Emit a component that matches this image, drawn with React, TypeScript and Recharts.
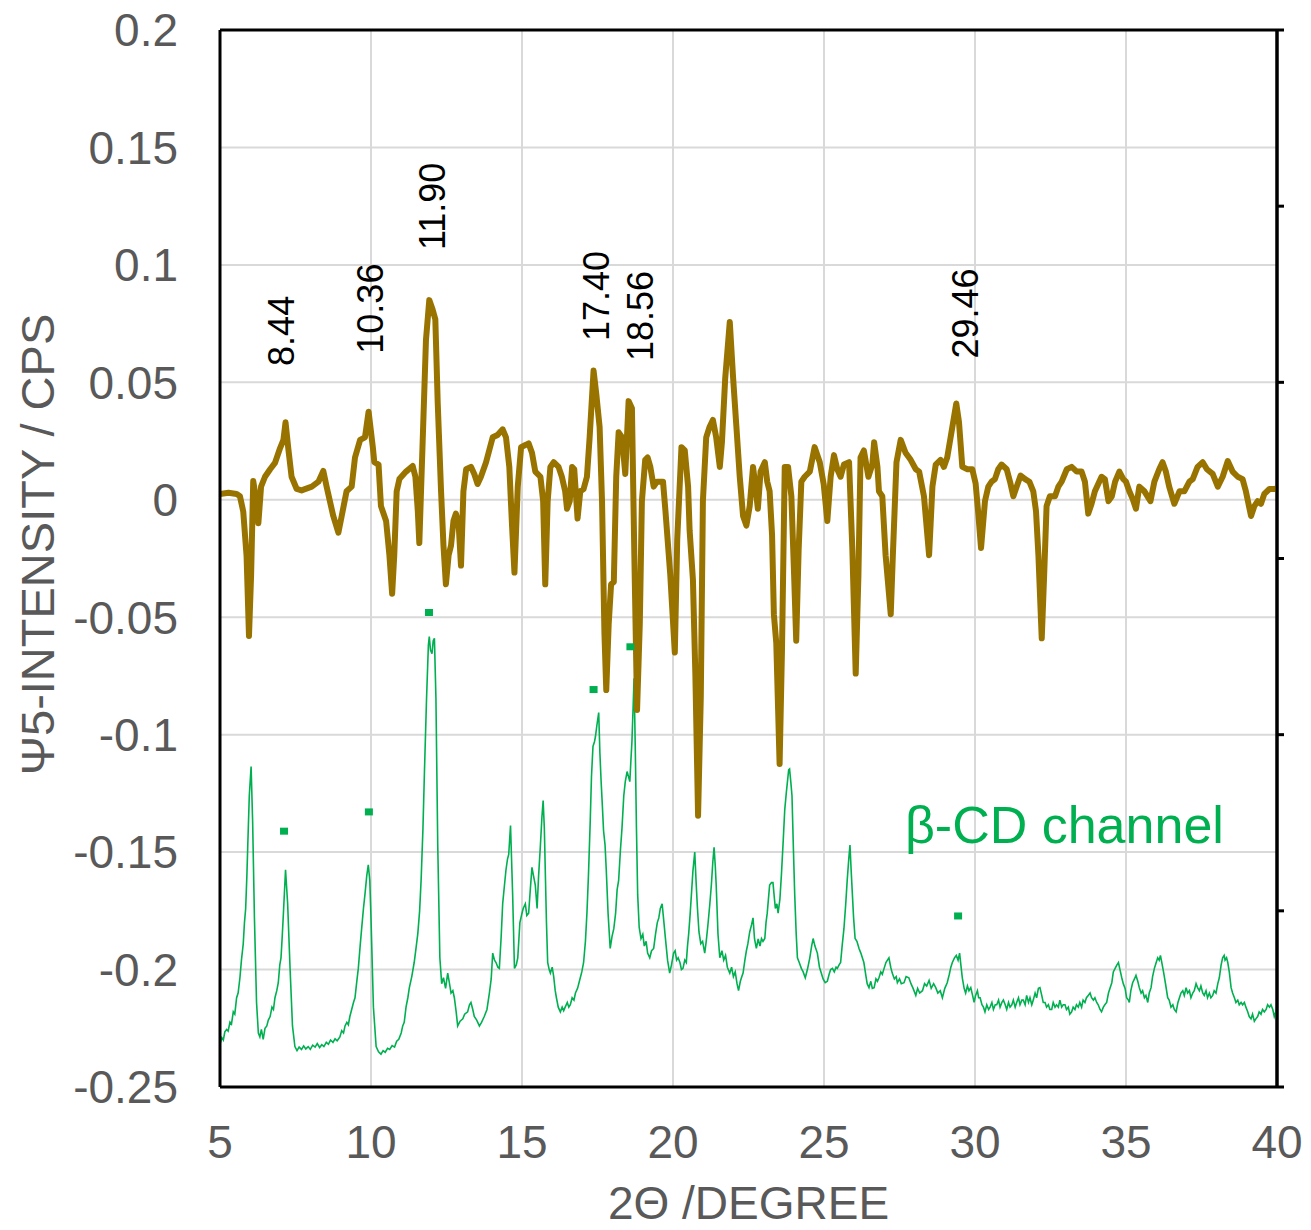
import React from 'react';
import { ComposedChart, Line, Scatter, XAxis, YAxis, CartesianGrid, ReferenceLine } from 'recharts';

document.body.style.margin = '0';

const FONT = '"Liberation Sans", Arial, sans-serif';

const xTicks = [5, 10, 15, 20, 25, 30, 35, 40];
const yTicks = [-0.25, -0.2, -0.15, -0.1, -0.05, 0, 0.05, 0.1, 0.15, 0.2];
const rightTicks = [0, 1, 2, 3, 4, 5, 6];
const rightRange = [0, 6];

// Ψ5 difference trace (2θ, intensity)
const psi5Trace: [number, number][] = [
  [5.0, 0.0025], [5.28, 0.003], [5.55, 0.0025], [5.66, 0.0015], [5.77, -0.005], [5.88, -0.024],
  [5.96, -0.058], [6.03, -0.032], [6.1, 0.008], [6.18, 0.0015], [6.27, -0.01], [6.36, 0.0056],
  [6.49, 0.0098], [6.66, 0.013], [6.82, 0.0157], [6.99, 0.022], [7.1, 0.0255], [7.17, 0.033],
  [7.26, 0.022], [7.37, 0.0098], [7.54, 0.0046], [7.7, 0.004], [8.04, 0.0056], [8.26, 0.0077],
  [8.42, 0.0123], [8.53, 0.0056], [8.75, -0.0069], [8.92, -0.014], [9.03, -0.0069], [9.19, 0.0036],
  [9.36, 0.0056], [9.47, 0.018], [9.64, 0.0255], [9.8, 0.0266], [9.92, 0.0375], [10.06, 0.0224],
  [10.11, 0.016], [10.25, 0.015], [10.33, -0.0027], [10.5, -0.009], [10.61, -0.0236], [10.7, -0.04],
  [10.77, -0.0236], [10.85, 0.0036], [10.94, 0.0088], [11.16, 0.012], [11.38, 0.0144], [11.47, 0.0098],
  [11.55, -0.0048], [11.6, -0.0184], [11.71, 0.0245], [11.82, 0.068], [11.93, 0.085], [12.04, 0.081],
  [12.13, 0.0768], [12.21, 0.041], [12.32, 0.0036], [12.4, -0.0195], [12.48, -0.036], [12.57, -0.0236],
  [12.65, -0.0195], [12.73, -0.009], [12.81, -0.0059], [12.9, -0.01], [12.98, -0.028], [13.06, 0.0036],
  [13.15, 0.013], [13.31, 0.014], [13.42, 0.011], [13.53, 0.0067], [13.64, 0.0098], [13.81, 0.016],
  [14.03, 0.0266], [14.19, 0.0276], [14.36, 0.03], [14.47, 0.0266], [14.58, 0.014], [14.67, -0.011],
  [14.75, -0.031], [14.86, 0.0056], [14.97, 0.0224], [15.13, 0.0234], [15.22, 0.024], [15.33, 0.02],
  [15.44, 0.012], [15.61, 0.0098], [15.7, -0.0006], [15.77, -0.036], [15.85, -0.0006], [15.94, 0.014],
  [16.05, 0.016], [16.21, 0.014], [16.32, 0.0098], [16.43, 0.0036], [16.49, -0.0038], [16.58, -0.0006],
  [16.66, 0.014], [16.73, 0.013], [16.84, -0.008], [16.93, 0.0036], [17.04, 0.0046], [17.15, 0.0098],
  [17.24, 0.0266], [17.37, 0.055], [17.46, 0.045], [17.57, 0.031], [17.65, -0.0006], [17.73, -0.057],
  [17.79, -0.081], [17.87, -0.053], [17.95, -0.036], [18.04, -0.035], [18.12, 0.0098], [18.2, 0.0287],
  [18.31, 0.0266], [18.42, 0.011], [18.53, 0.042], [18.64, 0.039], [18.72, -0.0236], [18.81, -0.0895],
  [18.9, -0.053], [18.97, -0.0006], [19.08, 0.017], [19.16, 0.018], [19.25, 0.014], [19.36, 0.0056],
  [19.47, 0.0077], [19.67, 0.0077], [19.75, -0.0048], [19.91, -0.032], [20.06, -0.065], [20.14, -0.017],
  [20.28, 0.0224], [20.39, 0.021], [20.5, 0.0056], [20.55, -0.013], [20.66, -0.034], [20.74, -0.074],
  [20.83, -0.1345], [20.92, -0.084], [20.99, -0.0006], [21.1, 0.0266], [21.21, 0.031], [21.32, 0.034],
  [21.43, 0.0266], [21.55, 0.014], [21.62, 0.0245], [21.73, 0.052], [21.88, 0.0757], [21.99, 0.052],
  [22.1, 0.031], [22.21, 0.0098], [22.32, -0.0069], [22.43, -0.011], [22.54, -0.0027], [22.65, 0.014],
  [22.73, 0.0056], [22.81, -0.0038], [22.9, 0.012], [23.04, 0.016], [23.12, 0.0077], [23.2, 0.0036],
  [23.28, -0.015], [23.34, -0.0487], [23.42, -0.061], [23.53, -0.1125], [23.61, -0.063], [23.7, 0.014],
  [23.81, 0.014], [23.92, 0.0015], [24.01, -0.032], [24.08, -0.06], [24.16, -0.0215], [24.25, 0.0077],
  [24.36, 0.0098], [24.53, 0.012], [24.69, 0.0224], [24.86, 0.016], [24.99, 0.0066], [25.11, -0.009],
  [25.22, 0.0098], [25.33, 0.019], [25.44, 0.013], [25.55, 0.0098], [25.66, 0.015], [25.83, 0.016],
  [25.94, -0.0215], [26.05, -0.074], [26.14, -0.032], [26.21, 0.018], [26.32, 0.021], [26.47, 0.0098],
  [26.6, 0.015], [26.66, 0.0245], [26.77, 0.014], [26.82, 0.0036], [26.93, 0.0015], [27.04, -0.0236],
  [27.21, -0.0487], [27.28, -0.0236], [27.4, 0.016], [27.54, 0.0255], [27.7, 0.02], [27.87, 0.017],
  [28.04, 0.013], [28.15, 0.012], [28.31, 0.0015], [28.48, -0.0236], [28.59, 0.0056], [28.7, 0.015],
  [28.86, 0.017], [28.97, 0.014], [29.08, 0.018], [29.25, 0.031], [29.38, 0.041], [29.47, 0.033],
  [29.58, 0.014], [29.75, 0.013], [29.91, 0.013], [30.02, 0.007], [30.11, -0.006], [30.2, -0.0205],
  [30.33, -0.0006], [30.44, 0.0056], [30.55, 0.0077], [30.66, 0.0088], [30.77, 0.013], [30.88, 0.015],
  [31.05, 0.013], [31.16, 0.0077], [31.27, 0.0015], [31.38, 0.0056], [31.51, 0.0103], [31.66, 0.0088],
  [31.8, 0.0077], [31.93, 0.0036], [32.02, -0.0048], [32.1, -0.0236], [32.21, -0.059], [32.29, -0.032],
  [32.37, -0.0027], [32.48, 0.0015], [32.65, 0.0015], [32.76, 0.0056], [32.87, 0.0077], [33.04, 0.013],
  [33.2, 0.014], [33.37, 0.012], [33.53, 0.012], [33.64, 0.0077], [33.75, -0.0059], [33.86, -0.0017],
  [33.97, 0.0036], [34.08, 0.0067], [34.19, 0.0098], [34.3, 0.0088], [34.42, -0.0006], [34.53, 0.0015],
  [34.64, 0.0077], [34.78, 0.012], [34.91, 0.0088], [35.0, 0.0077], [35.11, 0.0036], [35.22, 0.0004],
  [35.33, -0.0038], [35.44, 0.0056], [35.61, 0.0036], [35.81, -0.0006], [35.94, 0.0077], [36.1, 0.013],
  [36.21, 0.016], [36.32, 0.012], [36.43, 0.0056], [36.6, -0.0017], [36.77, 0.0036], [36.93, 0.0036],
  [37.1, 0.0077], [37.21, 0.0088], [37.37, 0.014], [37.54, 0.016], [37.68, 0.013], [37.87, 0.011],
  [38.04, 0.0056], [38.2, 0.0098], [38.37, 0.0165], [38.53, 0.012], [38.7, 0.0098], [38.86, 0.0088],
  [38.97, 0.0036], [39.14, -0.0069], [39.25, -0.0027], [39.36, -0.0006], [39.47, -0.0017], [39.58, 0.0025],
  [39.75, 0.0046], [39.91, 0.0046], [40.0, 0.0048],
];

// β-CD channel pattern (2θ, intensity)
const betaCdTrace: [number, number][] = [
  [5.0, -0.2318], [5.06, -0.229], [5.11, -0.23], [5.16, -0.2265], [5.22, -0.2255], [5.27, -0.2262],
  [5.33, -0.2224], [5.38, -0.2232], [5.44, -0.218], [5.49, -0.219], [5.55, -0.212], [5.6, -0.21],
  [5.66, -0.2035], [5.71, -0.196], [5.77, -0.189], [5.81, -0.18], [5.85, -0.174], [5.89, -0.16],
  [5.92, -0.147], [5.97, -0.126], [6.03, -0.1136], [6.08, -0.1366], [6.14, -0.178], [6.21, -0.214],
  [6.27, -0.227], [6.32, -0.2287], [6.37, -0.2255], [6.43, -0.2297], [6.49, -0.225], [6.55, -0.224],
  [6.6, -0.2215], [6.66, -0.22], [6.72, -0.216], [6.77, -0.217], [6.82, -0.212], [6.88, -0.209],
  [6.93, -0.2056], [6.98, -0.198], [7.02, -0.195], [7.06, -0.186], [7.1, -0.176], [7.17, -0.1575],
  [7.24, -0.172], [7.32, -0.1995], [7.4, -0.224], [7.48, -0.2328], [7.55, -0.2345], [7.62, -0.233],
  [7.7, -0.234], [7.77, -0.2325], [7.84, -0.2338], [7.92, -0.2328], [7.99, -0.234], [8.07, -0.2322],
  [8.15, -0.233], [8.22, -0.2315], [8.3, -0.2332], [8.37, -0.232], [8.44, -0.2328], [8.52, -0.231],
  [8.59, -0.2318], [8.66, -0.23], [8.74, -0.231], [8.81, -0.2295], [8.88, -0.2303], [8.97, -0.2287],
  [9.03, -0.226], [9.09, -0.227], [9.14, -0.224], [9.2, -0.2225], [9.25, -0.2235], [9.3, -0.22],
  [9.36, -0.217], [9.42, -0.214], [9.47, -0.212], [9.53, -0.205], [9.58, -0.1995], [9.64, -0.19],
  [9.69, -0.1826], [9.75, -0.174], [9.8, -0.168], [9.86, -0.16], [9.91, -0.1554], [9.96, -0.162],
  [10.0, -0.178], [10.08, -0.216], [10.17, -0.2328], [10.25, -0.235], [10.33, -0.236], [10.4, -0.2345],
  [10.47, -0.2352], [10.55, -0.2335], [10.62, -0.234], [10.7, -0.2324], [10.78, -0.233], [10.85, -0.2305],
  [10.92, -0.2297], [11.0, -0.227], [11.05, -0.224], [11.1, -0.2225], [11.16, -0.216], [11.22, -0.212],
  [11.27, -0.2077], [11.35, -0.203], [11.43, -0.197], [11.49, -0.191], [11.55, -0.1847], [11.61, -0.175],
  [11.66, -0.1617], [11.72, -0.14], [11.77, -0.1157], [11.84, -0.0843], [11.9, -0.062], [11.93, -0.0582],
  [11.97, -0.064], [12.02, -0.0655], [12.06, -0.06], [12.1, -0.059], [12.15, -0.0843], [12.21, -0.147],
  [12.28, -0.195], [12.34, -0.206], [12.4, -0.2035], [12.47, -0.208], [12.54, -0.2015], [12.6, -0.206],
  [12.65, -0.21], [12.71, -0.209], [12.76, -0.212], [12.82, -0.218], [12.87, -0.224], [12.95, -0.222],
  [13.04, -0.221], [13.1, -0.219], [13.2, -0.218], [13.26, -0.215], [13.31, -0.214], [13.37, -0.217],
  [13.42, -0.22], [13.5, -0.2215], [13.59, -0.224], [13.66, -0.2225], [13.75, -0.22], [13.84, -0.217],
  [13.92, -0.21], [13.98, -0.204], [14.03, -0.193], [14.09, -0.196], [14.14, -0.197], [14.2, -0.199],
  [14.25, -0.1995], [14.31, -0.186], [14.36, -0.172], [14.42, -0.164], [14.47, -0.1575], [14.52, -0.153],
  [14.56, -0.151], [14.62, -0.1387], [14.69, -0.168], [14.75, -0.1995], [14.81, -0.198], [14.86, -0.195],
  [14.93, -0.18], [15.0, -0.176], [15.04, -0.174], [15.11, -0.172], [15.16, -0.177], [15.22, -0.176],
  [15.28, -0.165], [15.33, -0.1565], [15.38, -0.16], [15.44, -0.164], [15.5, -0.174], [15.55, -0.16],
  [15.61, -0.147], [15.66, -0.135], [15.7, -0.128], [15.74, -0.14], [15.77, -0.1575], [15.81, -0.18],
  [15.85, -0.197], [15.9, -0.2], [15.94, -0.2015], [16.0, -0.199], [16.05, -0.203], [16.1, -0.209],
  [16.14, -0.212], [16.2, -0.216], [16.27, -0.218], [16.33, -0.216], [16.38, -0.2175], [16.43, -0.216],
  [16.5, -0.214], [16.55, -0.216], [16.6, -0.215], [16.66, -0.212], [16.72, -0.213], [16.77, -0.21],
  [16.84, -0.208], [16.93, -0.2035], [16.98, -0.201], [17.04, -0.197], [17.1, -0.188], [17.15, -0.176],
  [17.2, -0.16], [17.26, -0.1366], [17.3, -0.118], [17.35, -0.105], [17.4, -0.103], [17.43, -0.101],
  [17.48, -0.096], [17.54, -0.0906], [17.58, -0.108], [17.62, -0.12], [17.66, -0.13], [17.7, -0.1408],
  [17.75, -0.147], [17.79, -0.1575], [17.85, -0.176], [17.92, -0.191], [17.98, -0.186], [18.04, -0.1826],
  [18.1, -0.176], [18.15, -0.166], [18.2, -0.162], [18.26, -0.149], [18.31, -0.14], [18.37, -0.126],
  [18.42, -0.12], [18.48, -0.1157], [18.53, -0.118], [18.57, -0.12], [18.61, -0.11], [18.64, -0.103],
  [18.68, -0.088], [18.71, -0.076], [18.75, -0.105], [18.79, -0.14], [18.83, -0.168], [18.88, -0.182],
  [18.94, -0.1868], [19.0, -0.185], [19.05, -0.19], [19.11, -0.188], [19.16, -0.193], [19.23, -0.195],
  [19.29, -0.192], [19.36, -0.191], [19.42, -0.185], [19.48, -0.18], [19.53, -0.178], [19.58, -0.174],
  [19.64, -0.172], [19.7, -0.18], [19.75, -0.1868], [19.82, -0.196], [19.89, -0.2015], [19.95, -0.198],
  [20.02, -0.193], [20.07, -0.192], [20.12, -0.196], [20.17, -0.195], [20.23, -0.197], [20.28, -0.2],
  [20.33, -0.1995], [20.39, -0.196], [20.44, -0.197], [20.48, -0.19], [20.52, -0.1847], [20.57, -0.176],
  [20.61, -0.168], [20.66, -0.158], [20.72, -0.15], [20.77, -0.164], [20.81, -0.174], [20.86, -0.184],
  [20.92, -0.189], [20.98, -0.188], [21.05, -0.193], [21.1, -0.188], [21.16, -0.1805], [21.22, -0.172],
  [21.27, -0.164], [21.32, -0.154], [21.36, -0.148], [21.4, -0.156], [21.43, -0.164], [21.49, -0.185],
  [21.55, -0.195], [21.62, -0.192], [21.68, -0.196], [21.74, -0.194], [21.8, -0.199], [21.88, -0.2015],
  [21.94, -0.199], [22.0, -0.203], [22.06, -0.201], [22.12, -0.206], [22.17, -0.209], [22.23, -0.205],
  [22.28, -0.203], [22.32, -0.2015], [22.38, -0.196], [22.43, -0.192], [22.48, -0.189], [22.54, -0.184],
  [22.6, -0.181], [22.65, -0.178], [22.7, -0.187], [22.76, -0.191], [22.82, -0.187], [22.88, -0.19],
  [22.93, -0.1868], [22.98, -0.188], [23.04, -0.1868], [23.08, -0.18], [23.12, -0.176], [23.16, -0.17],
  [23.2, -0.164], [23.26, -0.163], [23.31, -0.163], [23.36, -0.17], [23.39, -0.174], [23.44, -0.172],
  [23.48, -0.176], [23.54, -0.17], [23.59, -0.1596], [23.65, -0.145], [23.7, -0.132], [23.75, -0.125],
  [23.79, -0.12], [23.83, -0.115], [23.86, -0.1146], [23.9, -0.12], [23.94, -0.126], [23.99, -0.15],
  [24.03, -0.168], [24.08, -0.185], [24.12, -0.195], [24.18, -0.197], [24.25, -0.1995], [24.31, -0.201],
  [24.38, -0.2035], [24.45, -0.2], [24.53, -0.195], [24.59, -0.19], [24.64, -0.1868], [24.7, -0.19],
  [24.78, -0.193], [24.85, -0.199], [24.91, -0.2015], [24.97, -0.204], [25.04, -0.2056], [25.11, -0.205],
  [25.17, -0.202], [25.22, -0.2], [25.28, -0.1995], [25.34, -0.201], [25.4, -0.199], [25.44, -0.1995],
  [25.5, -0.198], [25.55, -0.197], [25.6, -0.19], [25.66, -0.1826], [25.72, -0.172], [25.77, -0.1617],
  [25.82, -0.153], [25.86, -0.147], [25.9, -0.158], [25.94, -0.168], [25.98, -0.178], [26.03, -0.1868],
  [26.09, -0.188], [26.16, -0.191], [26.22, -0.193], [26.27, -0.195], [26.32, -0.197], [26.38, -0.202],
  [26.43, -0.206], [26.49, -0.2077], [26.55, -0.205], [26.6, -0.208], [26.66, -0.2077], [26.72, -0.204],
  [26.77, -0.205], [26.82, -0.2035], [26.88, -0.201], [26.93, -0.202], [26.99, -0.1995], [27.05, -0.197],
  [27.1, -0.196], [27.15, -0.195], [27.21, -0.199], [27.26, -0.2015], [27.33, -0.204], [27.39, -0.203],
  [27.43, -0.2056], [27.5, -0.204], [27.56, -0.206], [27.65, -0.2056], [27.72, -0.203], [27.81, -0.2035],
  [27.88, -0.206], [27.95, -0.208], [28.04, -0.211], [28.1, -0.208], [28.17, -0.21], [28.26, -0.209],
  [28.33, -0.206], [28.4, -0.207], [28.48, -0.2046], [28.55, -0.208], [28.63, -0.206], [28.7, -0.2077],
  [28.77, -0.21], [28.85, -0.209], [28.92, -0.212], [29.0, -0.208], [29.08, -0.2056], [29.15, -0.202],
  [29.2, -0.199], [29.25, -0.197], [29.32, -0.195], [29.38, -0.194], [29.44, -0.196], [29.49, -0.193],
  [29.54, -0.199], [29.58, -0.2035], [29.64, -0.208], [29.69, -0.21], [29.75, -0.207], [29.8, -0.209],
  [29.86, -0.2077], [29.92, -0.211], [29.97, -0.214], [30.02, -0.211], [30.08, -0.209], [30.12, -0.212],
  [30.17, -0.212], [30.23, -0.215], [30.28, -0.216], [30.33, -0.218], [30.39, -0.215], [30.45, -0.217],
  [30.5, -0.216], [30.56, -0.214], [30.61, -0.217], [30.67, -0.215], [30.72, -0.215], [30.78, -0.213],
  [30.83, -0.216], [30.89, -0.214], [30.94, -0.213], [31.0, -0.215], [31.05, -0.217], [31.11, -0.214],
  [31.16, -0.216], [31.22, -0.215], [31.27, -0.213], [31.33, -0.216], [31.38, -0.214], [31.44, -0.212],
  [31.49, -0.215], [31.55, -0.213], [31.6, -0.213], [31.66, -0.215], [31.71, -0.211], [31.77, -0.214],
  [31.82, -0.212], [31.88, -0.215], [31.93, -0.213], [31.99, -0.21], [32.04, -0.212], [32.1, -0.208],
  [32.15, -0.2077], [32.21, -0.211], [32.26, -0.214], [32.32, -0.214], [32.37, -0.216], [32.43, -0.215],
  [32.48, -0.217], [32.54, -0.217], [32.59, -0.214], [32.65, -0.216], [32.7, -0.215], [32.76, -0.216],
  [32.81, -0.213], [32.87, -0.216], [32.92, -0.215], [32.98, -0.215], [33.03, -0.217], [33.09, -0.216],
  [33.14, -0.219], [33.2, -0.218], [33.25, -0.216], [33.31, -0.217], [33.36, -0.215], [33.42, -0.216],
  [33.47, -0.214], [33.53, -0.216], [33.58, -0.213], [33.64, -0.214], [33.69, -0.212], [33.75, -0.211],
  [33.81, -0.21], [33.86, -0.212], [33.92, -0.213], [33.97, -0.212], [34.03, -0.214], [34.08, -0.215],
  [34.14, -0.217], [34.19, -0.218], [34.25, -0.216], [34.3, -0.215], [34.36, -0.214], [34.42, -0.21],
  [34.47, -0.208], [34.53, -0.2056], [34.58, -0.201], [34.64, -0.1995], [34.7, -0.198], [34.75, -0.197],
  [34.8, -0.2], [34.86, -0.2035], [34.91, -0.206], [34.97, -0.208], [35.02, -0.212], [35.08, -0.213],
  [35.11, -0.214], [35.16, -0.209], [35.22, -0.2056], [35.28, -0.204], [35.33, -0.2025], [35.39, -0.205],
  [35.44, -0.2077], [35.5, -0.21], [35.55, -0.209], [35.61, -0.212], [35.66, -0.211], [35.72, -0.214],
  [35.77, -0.21], [35.83, -0.2077], [35.88, -0.203], [35.94, -0.1995], [36.0, -0.197], [36.05, -0.195],
  [36.1, -0.196], [36.14, -0.194], [36.2, -0.198], [36.25, -0.2015], [36.32, -0.207], [36.38, -0.212],
  [36.43, -0.213], [36.49, -0.216], [36.55, -0.215], [36.6, -0.217], [36.66, -0.218], [36.72, -0.214],
  [36.77, -0.212], [36.82, -0.21], [36.88, -0.209], [36.93, -0.211], [36.99, -0.2077], [37.04, -0.21],
  [37.1, -0.209], [37.15, -0.212], [37.21, -0.21], [37.26, -0.209], [37.32, -0.206], [37.37, -0.2077],
  [37.43, -0.209], [37.48, -0.207], [37.54, -0.21], [37.59, -0.211], [37.65, -0.209], [37.7, -0.212],
  [37.76, -0.21], [37.81, -0.212], [37.87, -0.211], [37.92, -0.209], [37.98, -0.21], [38.04, -0.206],
  [38.09, -0.2035], [38.15, -0.198], [38.2, -0.195], [38.25, -0.194], [38.28, -0.196], [38.33, -0.195],
  [38.37, -0.197], [38.42, -0.201], [38.48, -0.2077], [38.53, -0.21], [38.59, -0.212], [38.64, -0.214],
  [38.7, -0.213], [38.75, -0.215], [38.81, -0.214], [38.86, -0.215], [38.92, -0.214], [38.97, -0.216],
  [39.03, -0.218], [39.08, -0.22], [39.14, -0.221], [39.19, -0.219], [39.25, -0.222], [39.3, -0.221],
  [39.36, -0.22], [39.41, -0.218], [39.47, -0.219], [39.52, -0.217], [39.58, -0.218], [39.64, -0.217],
  [39.69, -0.215], [39.75, -0.216], [39.8, -0.215], [39.86, -0.217], [39.91, -0.22], [39.96, -0.218],
  [40.0, -0.216],
];

// small square markers above the β-CD reflections
const peakMarkers: [number, number][] = [
  [7.12, -0.1413], [9.93, -0.1331], [11.92, -0.0482], [17.37, -0.081], [18.59, -0.0628], [29.44, -0.1774],
];

// rotated peak positions written above the Ψ5 trace
const peakLabelX = [7.04, 9.97, 12.05, 17.48, 18.91, 29.67];
const peakLabelY = [0.057, 0.0622, 0.1063, 0.0676, 0.0591, 0.0601];
const peakLabelText = ['8.44', '10.36', '11.90', '17.40', '18.56', '29.46'];

const noteData = [{ x: 27.68, y: -0.1461, text: 'β-CD channel' }];

const toPoints = (arr: [number, number][]) => arr.map(([x, y]) => ({ x, y }));
const psi5Data = toPoints(psi5Trace);
const betaData = toPoints(betaCdTrace);
const markerData = toPoints(peakMarkers);
const labelData = peakLabelX.map((x, i) => ({ x, y: peakLabelY[i], text: peakLabelText[i] }));
// invisible helper so the secondary (right) axis gets a scale
const rightAxisData = [{ x: 5, r: rightRange[0] }, { x: 40, r: rightRange[1] }];

const SquareMark = (props: any) => {
  const { cx, cy } = props;
  return <rect x={cx - 4} y={cy - 4} width={8} height={7} fill="#00B050" />;
};

const PeakText = (props: any) => {
  const { cx, cy, payload } = props;
  return (
    <text
      x={cx}
      y={cy}
      transform={`rotate(-90, ${cx}, ${cy})`}
      textAnchor="start"
      dominantBaseline="central"
      fontSize={36}
      fontFamily={FONT}
      fill="#000"
    >
      {payload.text}
    </text>
  );
};

const NoteText = (props: any) => {
  const { cx, cy, payload } = props;
  return (
    <text x={cx} y={cy} textAnchor="start" fontSize={52} fontFamily={FONT} fill="#00B050">
      {payload.text}
    </text>
  );
};

const YTitle = (props: any) => {
  const { x, y, height } = props.viewBox;
  const cx = x + 17;
  const cy = y + height / 2 - 14;
  return (
    <text
      x={cx}
      y={cy}
      transform={`rotate(-90, ${cx}, ${cy})`}
      textAnchor="middle"
      dominantBaseline="central"
      fontSize={47}
      fontFamily={FONT}
      fill="#595959"
    >
      Ψ5-INTENSITY / CPS
    </text>
  );
};

const XTitle = (props: any) => {
  const { x, y, width } = props.viewBox;
  return (
    <text x={x + width / 2} y={y + 132} textAnchor="middle" fontSize={46} fontFamily={FONT} fill="#595959">
      2Θ /DEGREE
    </text>
  );
};

const tickStyle = { fill: '#595959', fontSize: 46, fontFamily: FONT };

export default function App() {
  return (
    <div style={{ width: 1311, height: 1230, background: '#fff' }}>
      <ComposedChart width={1311} height={1230} margin={{ top: 30, right: 14, left: 20, bottom: 23 }}>
        <CartesianGrid stroke="#d9d9d9" strokeWidth={2} />
        <XAxis
          dataKey="x"
          type="number"
          domain={[5, 40]}
          ticks={xTicks}
          interval={0}
          allowDataOverflow
          height={120}
          tickSize={0}
          tickMargin={38}
          tick={tickStyle}
          axisLine={{ stroke: '#000', strokeWidth: 3 }}
          label={<XTitle />}
        />
        <YAxis
          dataKey="y"
          type="number"
          domain={[-0.25, 0.2]}
          ticks={yTicks}
          interval={0}
          allowDataOverflow
          width={200}
          tickSize={0}
          tickMargin={42}
          tick={tickStyle}
          tickFormatter={(v: number) => String(v)}
          axisLine={{ stroke: '#000', strokeWidth: 3 }}
          label={<YTitle />}
        />
        <YAxis
          yAxisId="right"
          orientation="right"
          type="number"
          domain={rightRange}
          ticks={rightTicks}
          interval={0}
          allowDataOverflow
          width={20}
          tick={{ fill: 'none', fontSize: 1 }}
          tickFormatter={() => ''}
          tickSize={7}
          tickLine={{ stroke: '#000', strokeWidth: 3 }}
          axisLine={{ stroke: '#000', strokeWidth: 3 }}
        />
        <ReferenceLine y={0.2} stroke="#000" strokeWidth={3} />
        <ReferenceLine x={40} stroke="#000" strokeWidth={3} />
        <Line
          yAxisId="right"
          data={rightAxisData}
          dataKey="r"
          stroke="none"
          dot={false}
          activeDot={false}
          isAnimationActive={false}
        />
        <Line
          data={betaData}
          dataKey="y"
          type="linear"
          stroke="#00B050"
          strokeWidth={1.6}
          dot={false}
          activeDot={false}
          isAnimationActive={false}
        />
        <Line
          data={psi5Data}
          dataKey="y"
          type="linear"
          stroke="#997300"
          strokeWidth={6}
          strokeLinejoin="round"
          dot={false}
          activeDot={false}
          isAnimationActive={false}
        />
        <Scatter data={markerData} dataKey="y" shape={<SquareMark />} isAnimationActive={false} />
        <Scatter data={labelData} dataKey="y" shape={<PeakText />} isAnimationActive={false} />
        <Scatter data={noteData} dataKey="y" shape={<NoteText />} isAnimationActive={false} />
      </ComposedChart>
    </div>
  );
}
